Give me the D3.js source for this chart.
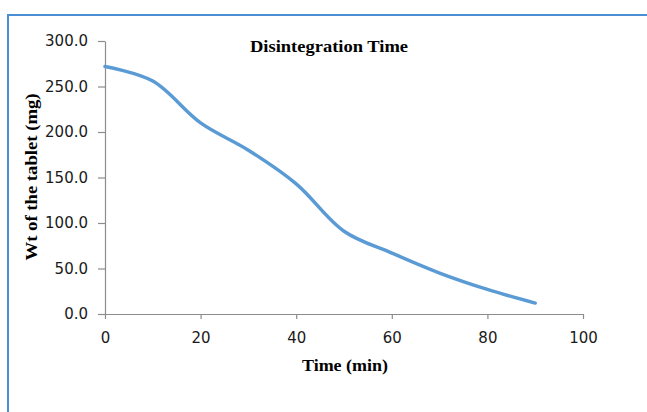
<!DOCTYPE html>
<html>
<head>
<meta charset="utf-8">
<script src="https://cdn.jsdelivr.net/npm/d3@7"></script>
<style>
  body { margin: 0; background: #fff; }
  .axis .tick text { font-family: "DejaVu Sans", sans-serif; font-size: 15px; fill: #1a1a1a; }
  .axis path, .axis line { stroke: #8c8c8c; stroke-width: 1.2; }
  .lbl { font-family: "Liberation Serif", "Times New Roman", serif; font-weight: bold; fill: #000; }
</style>
</head>
<body>
<div id="chart"></div>
<script>
  // data
  const timeMin = [0, 10, 20, 30, 40, 50, 60, 70, 80, 90];
  const weightMg = [272, 256, 210, 180, 143, 91, 67, 45, 27, 12];
  const xTicks = [0, 20, 40, 60, 80, 100];
  const yTicks = [0, 50, 100, 150, 200, 250, 300];

  const svg_width = 647, svg_height = 412;
  const margin = { top: 41, right: 64, bottom: 98, left: 105 },
    width = svg_width - margin.left - margin.right,
    height = svg_height - margin.top - margin.bottom;

  const root = d3.select("#chart").append("svg")
    .attr("width", svg_width)
    .attr("height", svg_height);

  // blue frame, only top and left edges show
  root.append("path")
    .attr("d", "M8,412 L8,15 L647,15")
    .attr("fill", "none")
    .attr("stroke", "#4a8fd4")
    .attr("stroke-width", 2);

  const svg = root.append("g")
    .attr("transform", "translate(" + margin.left + "," + margin.top + ")");

  const x = d3.scaleLinear().domain([0, 100]).range([0, width]);
  const y = d3.scaleLinear().domain([0, 300]).range([height, 0]);

  // x axis
  svg.append("g")
    .attr("class", "axis")
    .attr("transform", "translate(0," + height + ")")
    .call(d3.axisBottom(x).tickValues(xTicks).tickSize(5).tickSizeOuter(0).tickPadding(13));

  // y axis
  svg.append("g")
    .attr("class", "axis")
    .call(d3.axisLeft(y).tickValues(yTicks).tickFormat(d3.format(".1f")).tickSize(7).tickSizeOuter(0).tickPadding(10));

  // curve
  const data = timeMin.map((t, i) => ({ t: t, w: weightMg[i] }));
  svg.append("path")
    .datum(data)
    .attr("fill", "none")
    .attr("stroke", "#5b9bd5")
    .attr("stroke-width", 3.5)
    .attr("stroke-linecap", "round")
    .attr("d", d3.line()
      .x(d => x(d.t))
      .y(d => y(d.w))
      .curve(d3.curveCatmullRom.alpha(0.5)));

  // title + axis labels (the source is a bit wider than the font, so stretch via textLength)
  root.append("text")
    .attr("class", "lbl")
    .attr("x", 329).attr("y", 52)
    .attr("text-anchor", "middle")
    .style("font-size", "16px")
    .attr("textLength", 158).attr("lengthAdjust", "spacingAndGlyphs")
    .text("Disintegration Time");

  root.append("text")
    .attr("class", "lbl")
    .attr("x", 345).attr("y", 371)
    .attr("text-anchor", "middle")
    .style("font-size", "16px")
    .attr("textLength", 86).attr("lengthAdjust", "spacingAndGlyphs")
    .text("Time (min)");

  root.append("text")
    .attr("class", "lbl")
    .attr("transform", "translate(37,177) rotate(-90)")
    .attr("text-anchor", "middle")
    .style("font-size", "17px")
    .attr("textLength", 167).attr("lengthAdjust", "spacingAndGlyphs")
    .text("Wt of the tablet (mg)");
</script>
</body>
</html>
